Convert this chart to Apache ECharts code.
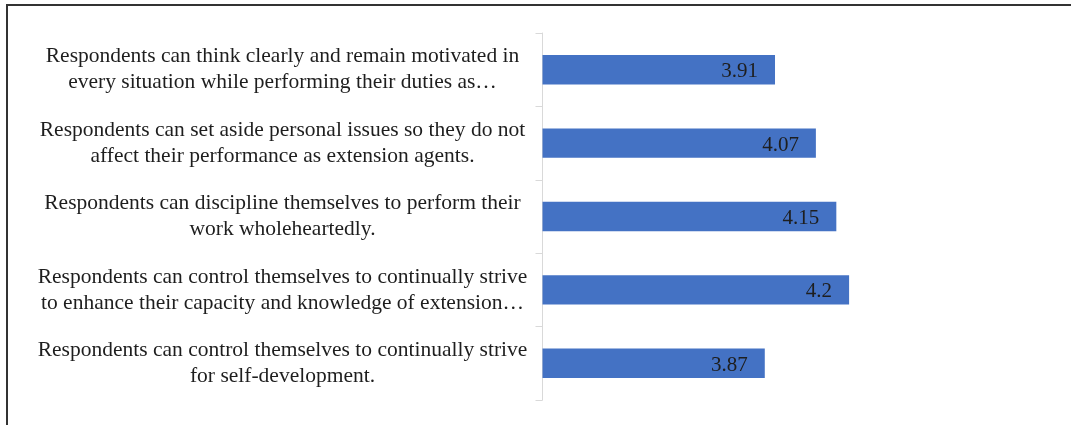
<!DOCTYPE html>
<html>
<head>
<meta charset="utf-8">
<title>Self-control of extension agents</title>
<script src="https://cdn.jsdelivr.net/npm/echarts@6/dist/echarts.min.js"></script>
<style>
  html, body { margin: 0; padding: 0; background: #ffffff; }
  #chart { width: 1071px; height: 425px; }
</style>
</head>
<body>
<div id="chart"></div>
<script>
// Statements, top to bottom, with their line breaks as printed
const categories = [
  'Respondents can think clearly and remain motivated in\nevery situation while performing their duties as…',
  'Respondents can set aside personal issues so they do not\naffect their performance as extension agents.',
  'Respondents can discipline themselves to perform their\nwork wholeheartedly.',
  'Respondents can control themselves to continually strive\nto enhance their capacity and knowledge of extension…',
  'Respondents can control themselves to continually strive\nfor self-development.'
];

// Mean scores for each statement
const meanScores = [3.91, 4.07, 4.15, 4.2, 3.87];

// Value axis range (hidden)
const valueMin = 3;
const valueMax = 5;
const valueStep = 0.5;

const serif = '"Liberation Serif", "Times New Roman", "DejaVu Serif", serif';
const textColor = '#1e1e1e';

const chart = echarts.init(document.getElementById('chart'), null, { renderer: 'canvas' });

chart.setOption({
  backgroundColor: '#ffffff',
  animation: false,
  grid: {
    left: 542.5,
    right: 17.5,
    top: 33,
    bottom: 25,
    containLabel: false,
    outerBoundsMode: 'none'
  },
  xAxis: {
    type: 'value',
    min: valueMin,
    max: valueMax,
    interval: valueStep,
    show: false
  },
  yAxis: {
    type: 'category',
    inverse: true,
    data: categories,
    axisLine: { show: true, lineStyle: { color: '#d9d9d9', width: 1 } },
    axisTick: { show: true, length: 7, lineStyle: { color: '#d9d9d9', width: 1 } },
    axisLabel: {
      align: 'center',
      margin: 260,
      fontFamily: serif,
      fontSize: 21.5,
      lineHeight: 26,
      padding: [5, 0, 0, 0],
      color: textColor
    },
    splitLine: { show: false }
  },
  series: [{
    type: 'bar',
    data: meanScores,
    barCategoryGap: '60%',
    itemStyle: { color: '#4472c4' },
    label: {
      show: true,
      position: 'insideRight',
      distance: 17,
      offset: [0, 2],
      fontFamily: serif,
      fontSize: 21,
      color: textColor,
      formatter: (p) => String(p.value)
    },
    silent: true
  }],
  graphic: [
    { type: 'line', shape: { x1: 7, y1: 5, x2: 1071, y2: 5 }, style: { stroke: '#333333', lineWidth: 2 } },
    { type: 'line', shape: { x1: 7, y1: 4, x2: 7, y2: 425 }, style: { stroke: '#333333', lineWidth: 2 } }
  ]
});
</script>
</body>
</html>
